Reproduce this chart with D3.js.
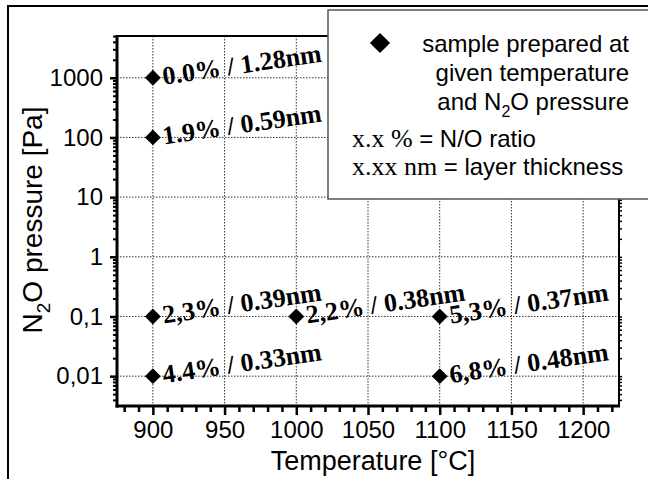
<!DOCTYPE html>
<html>
<head>
<meta charset="utf-8">
<script src="https://cdn.jsdelivr.net/npm/d3@7"></script>
<style>
  html, body { margin: 0; padding: 0; background: #fff; }
  svg { display: block; }
  .sans { font-family: "Liberation Sans", Arial, sans-serif; }
  .serif { font-family: "Liberation Serif", "Times New Roman", serif; }
</style>
</head>
<body>
<svg id="chart" width="648" height="479"></svg>
<script>
// Samples: preparation temperature (°C) and N2O pressure (Pa)
const temperatures = [900, 900, 900, 900, 1000, 1100, 1100];
const pressures    = [1000, 100, 0.1, 0.01, 0.1, 0.1, 0.01];
// Measured N/O ratio and layer thickness for each sample
const ratios       = ["0.0%", "1.9%", "2,3%", "4.4%", "2,2%", "5,3%", "6,8%"];
const thicknesses  = ["1.28nm", "0.59nm", "0.39nm", "0.33nm", "0.38nm", "0.37nm", "0.48nm"];

// Axis ticks
const xTicks = [900, 950, 1000, 1050, 1100, 1150, 1200];
const yTicks = [0.01, 0.1, 1, 10, 100, 1000];
const yTickLabels = ["0,01", "0,1", "1", "10", "100", "1000"];

const W = 648, H = 479;
const plot = { left: 117, right: 619, top: 36, bottom: 406 };

const svg = d3.select("#chart");
svg.append("rect").attr("width", W).attr("height", H).attr("fill", "#fff");

// outer frame
svg.append("rect")
  .attr("x", 8).attr("y", 6).attr("width", W + 10).attr("height", H + 10)
  .attr("fill", "none").attr("stroke", "#000").attr("stroke-width", 2);

const x = d3.scaleLinear().domain([875, 1225]).range([plot.left, plot.right]);
const y = d3.scaleLog().domain([Math.pow(10, -2.5), Math.pow(10, 3.7)]).range([plot.bottom, plot.top]);

// dotted grid at major ticks
const grid = svg.append("g").attr("stroke", "#333").attr("stroke-width", 1).attr("stroke-dasharray", "1.5,1.5");
grid.selectAll("line.gx").data(xTicks).join("line")
  .attr("x1", d => x(d)).attr("x2", d => x(d))
  .attr("y1", plot.top).attr("y2", plot.bottom);
grid.selectAll("line.gy").data(yTicks).join("line")
  .attr("y1", d => y(d)).attr("y2", d => y(d))
  .attr("x1", plot.left).attr("x2", plot.right);

// minor ticks
const xMinor = d3.range(880, 1221, 10).filter(v => v % 50 !== 0);
const yMinor = [];
for (let e = -3; e <= 3; e++) {
  for (let m = 2; m <= 9; m++) {
    const v = m * Math.pow(10, e);
    if (v >= y.domain()[0] && v <= y.domain()[1]) yMinor.push(v);
  }
}

// bottom axis
const xAxis = d3.axisBottom(x).tickValues(xTicks).tickSize(9).tickSizeOuter(0).tickPadding(6)
  .tickFormat(d3.format("d"));
const gx = svg.append("g").attr("transform", `translate(0,${plot.bottom})`).call(xAxis);
gx.select(".domain").remove();
gx.selectAll(".tick line").attr("stroke-width", 2.5);
gx.selectAll(".tick text").attr("class", "sans").attr("font-size", 24).attr("fill", "#000");
const gxm = svg.append("g").attr("transform", `translate(0,${plot.bottom})`)
  .call(d3.axisBottom(x).tickValues(xMinor).tickSize(6).tickFormat(""));
gxm.select(".domain").remove();
gxm.selectAll(".tick line").attr("stroke-width", 2.5);

// left axis
const yAxis = d3.axisLeft(y).tickValues(yTicks).tickSize(7).tickPadding(7)
  .tickFormat((d, i) => yTickLabels[i]);
const gy = svg.append("g").attr("transform", `translate(${plot.left},0)`).call(yAxis);
gy.select(".domain").remove();
gy.selectAll(".tick line").attr("stroke-width", 2.5);
gy.selectAll(".tick text").attr("class", "sans").attr("font-size", 24).attr("fill", "#000");
const gym = svg.append("g").attr("transform", `translate(${plot.left},0)`)
  .call(d3.axisLeft(y).tickValues(yMinor).tickSize(4).tickFormat(""));
gym.select(".domain").remove();
gym.selectAll(".tick line").attr("stroke-width", 2);

// right axis minor ticks
const gyr = svg.append("g").attr("transform", `translate(${plot.right},0)`)
  .call(d3.axisRight(y).tickValues(yMinor.concat(yTicks)).tickSize(3).tickFormat(""));
gyr.select(".domain").remove();
gyr.selectAll(".tick line").attr("stroke-width", 1.5);

// plot frame
svg.append("line").attr("x1", plot.left).attr("x2", plot.right).attr("y1", plot.top).attr("y2", plot.top)
  .attr("stroke", "#000").attr("stroke-width", 2);
svg.append("line").attr("x1", plot.right).attr("x2", plot.right).attr("y1", plot.top).attr("y2", plot.bottom)
  .attr("stroke", "#000").attr("stroke-width", 2);
svg.append("line").attr("x1", plot.left).attr("x2", plot.left).attr("y1", plot.top - 1).attr("y2", plot.bottom + 1.5)
  .attr("stroke", "#000").attr("stroke-width", 3);
svg.append("line").attr("x1", plot.left - 1.5).attr("x2", plot.right + 1).attr("y1", plot.bottom).attr("y2", plot.bottom)
  .attr("stroke", "#000").attr("stroke-width", 3);

// sample markers
const diamond = d3.symbol().type(d3.symbolDiamond2).size(160);
const samples = temperatures.map((t, i) => ({ t, p: pressures[i], label: `${ratios[i]} / ${thicknesses[i]}` }));
svg.append("g").selectAll("path").data(samples).join("path")
  .attr("d", diamond)
  .attr("transform", d => `translate(${x(d.t)},${y(d.p)})`)
  .attr("fill", "#000");

// rotated annotations
svg.append("g").selectAll("text").data(samples).join("text")
  .attr("class", "serif")
  .attr("font-size", 26).attr("font-weight", "bold").attr("fill", "#000")
  .attr("transform", d => `translate(${x(d.t) + 11},${y(d.p) + 7}) rotate(-8.3)`)
  .text(d => d.label);

// axis titles
svg.append("text").attr("class", "sans").attr("font-size", 27)
  .attr("x", 373).attr("y", 470).attr("text-anchor", "middle").text("Temperature [°C]");
const yt = svg.append("text").attr("class", "sans").attr("font-size", 28)
  .attr("text-anchor", "middle").attr("transform", "translate(42,220) rotate(-90)");
yt.append("tspan").text("N");
yt.append("tspan").attr("font-size", 19).attr("dy", 8).text("2");
yt.append("tspan").attr("dy", -8).text("O pressure [Pa]");

// legend
const lg = svg.append("g");
lg.append("rect").attr("x", 328).attr("y", 10).attr("width", 340).attr("height", 189)
  .attr("fill", "#fff").attr("stroke", "#555").attr("stroke-width", 1.5);
lg.append("path").attr("d", d3.symbol().type(d3.symbolDiamond2).size(260))
  .attr("transform", "translate(380,43)").attr("fill", "#000");
const right = 629;
lg.append("text").attr("class", "sans").attr("font-size", 24).attr("text-anchor", "end")
  .attr("x", right).attr("y", 52).text("sample prepared at");
lg.append("text").attr("class", "sans").attr("font-size", 24).attr("text-anchor", "end")
  .attr("x", right).attr("y", 81).text("given temperature");
const l3 = lg.append("text").attr("class", "sans").attr("font-size", 24).attr("text-anchor", "end")
  .attr("x", right).attr("y", 110);
l3.append("tspan").text("and N");
l3.append("tspan").attr("font-size", 16).attr("dy", 7).text("2");
l3.append("tspan").attr("dy", -7).text("O pressure");
const l4 = lg.append("text").attr("class", "sans").attr("font-size", 24).attr("x", 352).attr("y", 147);
l4.append("tspan").attr("class", "serif").attr("font-size", 26).text("x.x % ");
l4.append("tspan").text("= N/O ratio");
const l5 = lg.append("text").attr("class", "sans").attr("font-size", 24).attr("x", 352).attr("y", 175);
l5.append("tspan").attr("class", "serif").attr("font-size", 26).text("x.xx nm ");
l5.append("tspan").text("= layer thickness");
</script>
</body>
</html>
